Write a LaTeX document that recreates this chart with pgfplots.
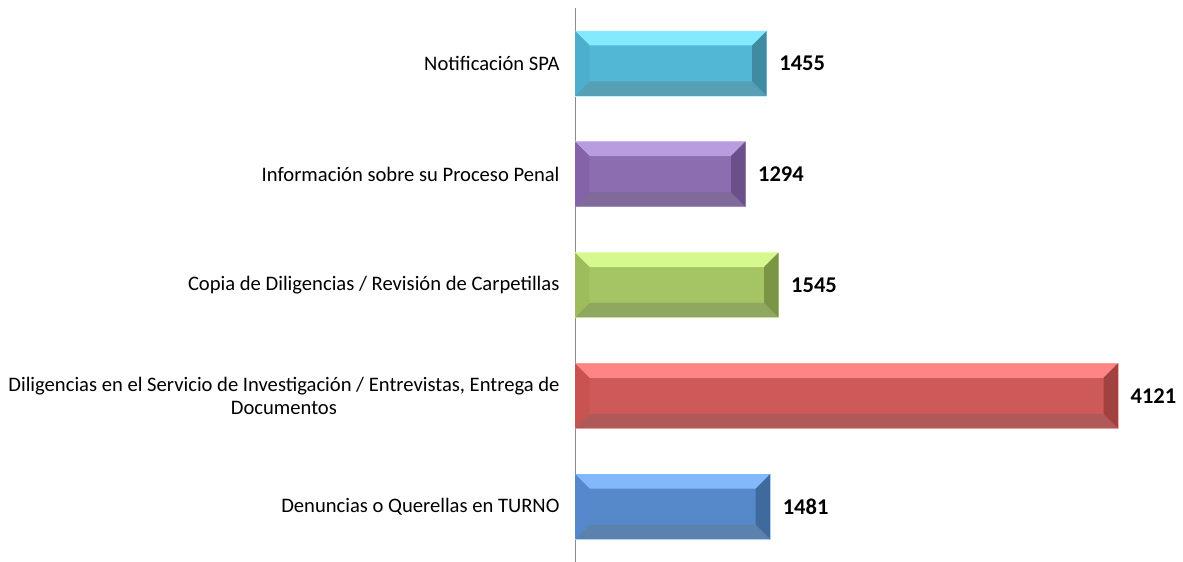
\documentclass[border=0pt]{standalone}
\usepackage{pgfplots}
\pgfplotsset{compat=1.18}
\usepackage{fontspec}
\setmainfont{Carlito}

% cyan
\definecolor{cyT}{HTML}{82E9FF}\definecolor{cyM}{HTML}{52B7D2}\definecolor{cyB}{HTML}{569FB4}\definecolor{cyL}{HTML}{4DAFCC}\definecolor{cyR}{HTML}{3F8CA2}
% purple
\definecolor{puT}{HTML}{B89CDF}\definecolor{puM}{HTML}{8B6DB0}\definecolor{puB}{HTML}{7F6A9A}\definecolor{puL}{HTML}{8463AB}\definecolor{puR}{HTML}{6A4F8A}
% green
\definecolor{grT}{HTML}{D6F98F}\definecolor{grM}{HTML}{A5C464}\definecolor{grB}{HTML}{8FA860}\definecolor{grL}{HTML}{9DBC5C}\definecolor{grR}{HTML}{7B9544}
% red
\definecolor{reT}{HTML}{FF8584}\definecolor{reM}{HTML}{CD5A58}\definecolor{reB}{HTML}{AF5A58}\definecolor{reL}{HTML}{C95350}\definecolor{reR}{HTML}{A24240}
% blue
\definecolor{blT}{HTML}{82B9FA}\definecolor{blM}{HTML}{5689C9}\definecolor{blB}{HTML}{5B82AE}\definecolor{blL}{HTML}{5588CC}\definecolor{blR}{HTML}{3F6A9E}

% #1 y position, #2 value, #3 colour prefix
\newcommand{\bevelbar}[3]{%
  \addplot[xbar, bar width=65pt, bar shift=0pt, fill=#3M, draw=#3T!50!white, line width=0.6pt,
    nodes near coords={\bfseries #2}, nodes near coords align={horizontal},
    every node near coord/.append style={font=\fontsize{22.5}{26}\selectfont, text=black, xshift=9pt}]
    coordinates {(#2,#1)};
  \pgfmathsetmacro{\yT}{#1+0.2933}%
  \pgfmathsetmacro{\yTi}{#1+0.1624}%
  \pgfmathsetmacro{\yBi}{#1-0.1624}%
  \pgfmathsetmacro{\yB}{#1-0.2933}%
  \pgfmathsetmacro{\xR}{#2}%
  \pgfmathsetmacro{\xRi}{#2-110}%
  \addplot[fill=#3T, draw=none] coordinates {(0,\yT) (\xR,\yT) (\xRi,\yTi) (110,\yTi)};
  \addplot[fill=#3B, draw=none] coordinates {(0,\yB) (\xR,\yB) (\xRi,\yBi) (110,\yBi)};
  \addplot[fill=#3L, draw=none] coordinates {(0,\yB) (110,\yBi) (110,\yTi) (0,\yT)};
  \addplot[fill=#3R, draw=none] coordinates {(\xR,\yB) (\xRi,\yBi) (\xRi,\yTi) (\xR,\yT)};
}

\begin{document}
\begin{tikzpicture}
\path[use as bounding box] (0,0) rectangle (1183pt,562pt);
\begin{axis}[
  at={(575pt,0pt)}, anchor=south west,
  scale only axis, width=543pt, height=554pt,
  xmin=0, xmax=4121, ymin=-0.5, ymax=4.5,
  axis x line=none, axis y line*=left,
  y axis line style={draw=gray!90, line width=0.8pt, -},
  ytick={0,1,2,3,4},
  yticklabels={Denuncias o Querellas en TURNO,
    {Diligencias en el Servicio de Investigación / Entrevistas, Entrega de\\Documentos},
    Copia de Diligencias / Revisión de Carpetillas,
    Información sobre su Proceso Penal,
    Notificación SPA},
  major tick length=0pt,
  yticklabel style={font=\fontsize{20.6}{23}\selectfont, align=center, xshift=-12pt},
  clip=false,
]
\bevelbar{0}{1481}{bl}
\bevelbar{1}{4121}{re}
\bevelbar{2}{1545}{gr}
\bevelbar{3}{1294}{pu}
\bevelbar{4}{1455}{cy}
\end{axis}
\end{tikzpicture}
\end{document}
